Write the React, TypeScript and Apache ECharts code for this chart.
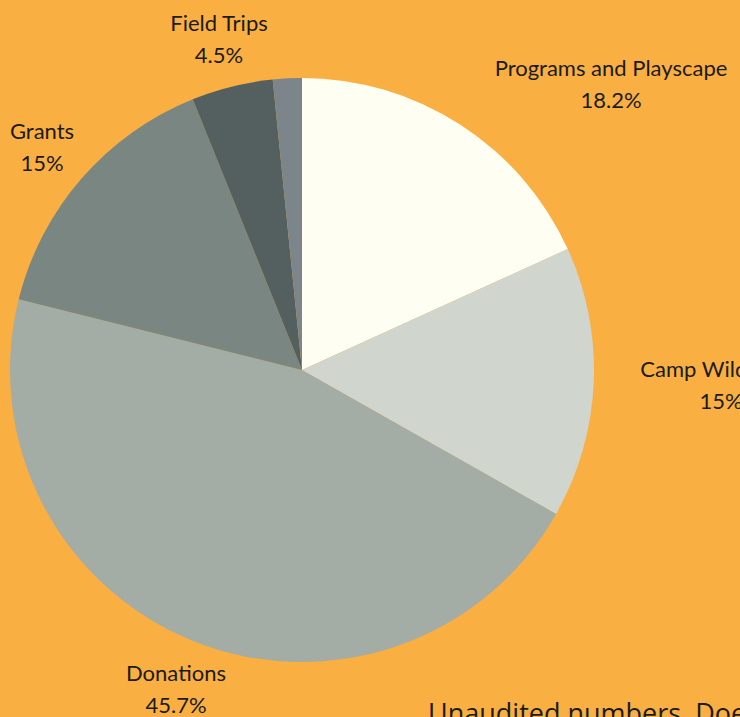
import React, { useEffect, useRef } from "react";
import * as echarts from "echarts";

const categories = ["Programs and Playscape", "Camp Wildwood", "Donations", "Grants", "Field Trips", "Other"];
const shares = [18.2, 15, 45.7, 15, 4.5, 1.6];
const showLabel = [true, true, true, true, true, false];
const sliceColors = ["#FFFEF2", "#D0D6CE", "#A3ACA5", "#7A8681", "#53605F", "#7C868A"];
// label block centres (x, y) in pixels
const labelCenters: [number, number][] = [
  [611, 83],
  [721, 384],
  [176, 688],
  [42, 146],
  [219, 38],
  [0, 0],
];
const footnote = "Unaudited numbers. Does not include in-kind donations.";

export default function App() {
  const ref = useRef<HTMLDivElement>(null);
  useEffect(() => {
    if (!ref.current) return;
    const chart = echarts.init(ref.current, null, { renderer: "svg" });
    chart.setOption({
      animation: false,
      backgroundColor: "#F9AF42",
      series: [
        {
          type: "pie",
          center: [302, 370],
          radius: [0, 292],
          startAngle: 90,
          clockwise: true,
          avoidLabelOverlap: false,
          labelLine: { show: false },
          label: {
            position: "outside",
            formatter: (p: any) => `${p.name}\n${p.value}%`,
            fontFamily: "Lato",
            fontSize: 22,
            lineHeight: 32,
            color: "#1b1b1b",
            align: "center",
            verticalAlign: "middle",
          },
          labelLayout: (params: any) => {
            const c = labelCenters[params.dataIndex];
            return { x: c[0], y: c[1], align: "center", verticalAlign: "middle" };
          },
          data: categories.map((name, i) => ({
            name,
            value: shares[i],
            itemStyle: { color: sliceColors[i] },
            label: { show: showLabel[i] },
          })),
        },
      ],
      graphic: [
        {
          type: "text",
          left: 428,
          top: 699,
          style: {
            text: footnote,
            fontFamily: "Open Sans",
            fontSize: 27,
            fill: "#1b1b1b",
          },
        },
      ],
    });
    return () => chart.dispose();
  }, []);
  return (
    <div
      ref={ref}
      style={{ position: "fixed", left: 0, top: 0, width: 740, height: 717 }}
    />
  );
}
